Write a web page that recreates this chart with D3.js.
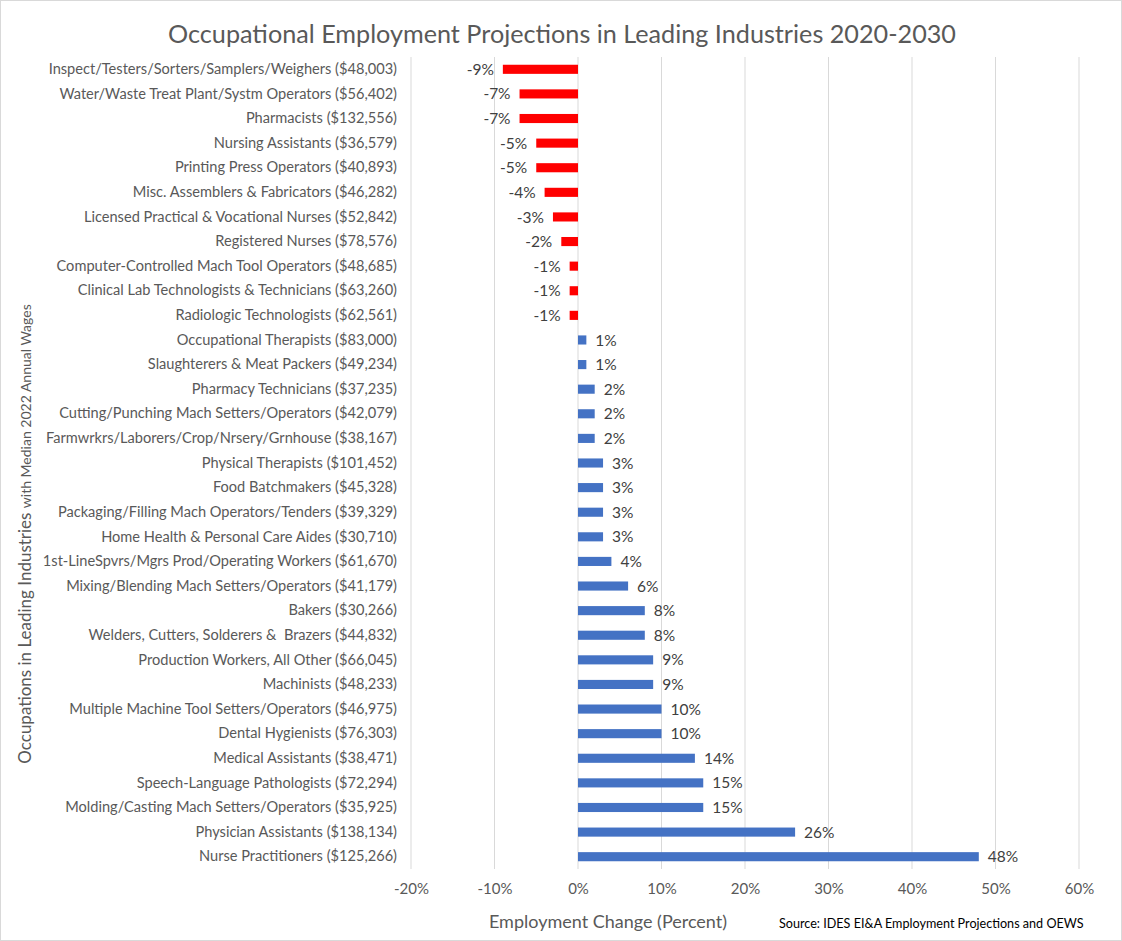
<!DOCTYPE html>
<html>
<head>
<meta charset="utf-8">
<script src="https://cdn.jsdelivr.net/npm/d3@7"></script>
<style>
  html, body { margin: 0; padding: 0; background: #fff; }
  svg text { font-family: Lato, "Open Sans", sans-serif; white-space: pre; }
</style>
</head>
<body>
<svg id="chart" width="1122" height="941"></svg>
<script>
// Occupations (with median 2022 annual wage), top to bottom
const occupations = [
  "Inspect/Testers/Sorters/Samplers/Weighers ($48,003)",
  "Water/Waste Treat Plant/Systm Operators ($56,402)",
  "Pharmacists ($132,556)",
  "Nursing Assistants ($36,579)",
  "Printing Press Operators ($40,893)",
  "Misc. Assemblers & Fabricators ($46,282)",
  "Licensed Practical & Vocational Nurses ($52,842)",
  "Registered Nurses ($78,576)",
  "Computer-Controlled Mach Tool Operators ($48,685)",
  "Clinical Lab Technologists & Technicians ($63,260)",
  "Radiologic Technologists ($62,561)",
  "Occupational Therapists ($83,000)",
  "Slaughterers & Meat Packers ($49,234)",
  "Pharmacy Technicians ($37,235)",
  "Cutting/Punching Mach Setters/Operators ($42,079)",
  "Farmwrkrs/Laborers/Crop/Nrsery/Grnhouse ($38,167)",
  "Physical Therapists ($101,452)",
  "Food Batchmakers ($45,328)",
  "Packaging/Filling Mach Operators/Tenders ($39,329)",
  "Home Health & Personal Care Aides ($30,710)",
  "1st-LineSpvrs/Mgrs Prod/Operating Workers ($61,670)",
  "Mixing/Blending Mach Setters/Operators ($41,179)",
  "Bakers ($30,266)",
  "Welders, Cutters, Solderers &  Brazers ($44,832)",
  "Production Workers, All Other ($66,045)",
  "Machinists ($48,233)",
  "Multiple Machine Tool Setters/Operators ($46,975)",
  "Dental Hygienists ($76,303)",
  "Medical Assistants ($38,471)",
  "Speech-Language Pathologists ($72,294)",
  "Molding/Casting Mach Setters/Operators ($35,925)",
  "Physician Assistants ($138,134)",
  "Nurse Practitioners ($125,266)"
];

// Projected employment change 2020-2030, percent
const changePct = [
  -9, -7, -7, -5, -5, -4, -3, -2, -1, -1, -1,
  1, 1, 2, 2, 2, 3, 3, 3, 3, 4, 6, 8, 8, 9, 9, 10, 10, 14, 15, 15, 26, 48
];

const xTicks = [-20, -10, 0, 10, 20, 30, 40, 50, 60];

const titleText = "Occupational Employment Projections in Leading Industries 2020-2030";
const xTitleText = "Employment Change (Percent)";
const sourceText = "Source: IDES EI&A Employment Projections and OEWS";

const data = occupations.map((name, i) => ({ name, value: changePct[i] }));

const svg = d3.select("#chart");
const W = 1122, H = 941;
const margin = { top: 57, right: 43, bottom: 72, left: 411 };

// outer border
svg.append("rect")
  .attr("x", 0.5).attr("y", 0.5)
  .attr("width", W - 1).attr("height", H - 1)
  .attr("fill", "#fff").attr("stroke", "#d9d9d9");

const x = d3.scaleLinear()
  .domain([-20, 60])
  .range([margin.left, W - margin.right]);

const y = d3.scaleBand()
  .domain(occupations)
  .range([margin.top, H - margin.bottom])
  .paddingInner(0.63)
  .paddingOuter(0.315);

// vertical gridlines
svg.append("g")
  .selectAll("line")
  .data(xTicks)
  .join("line")
  .attr("x1", d => x(d)).attr("x2", d => x(d))
  .attr("y1", margin.top).attr("y2", H - margin.bottom)
  .attr("stroke", "#d9d9d9").attr("stroke-width", 1);

// x axis tick labels
const xAxis = d3.axisBottom(x)
  .tickValues(xTicks)
  .tickSize(0)
  .tickPadding(14)
  .tickFormat(d => d + "%");
const gx = svg.append("g")
  .attr("transform", `translate(0,${H - margin.bottom})`)
  .call(xAxis);
gx.select(".domain").remove();
gx.selectAll("text")
  .attr("fill", "#595959")
  .style("font-size", "15px");

// y axis category labels
const yAxis = d3.axisLeft(y).tickSize(0).tickPadding(14);
const gy = svg.append("g")
  .attr("transform", `translate(${margin.left},0)`)
  .call(yAxis);
gy.select(".domain").remove();
gy.selectAll("text")
  .attr("fill", "#595959")
  .style("font-size", "14.6px");

// bars
svg.append("g")
  .selectAll("rect")
  .data(data)
  .join("rect")
  .attr("x", d => x(Math.min(0, d.value)))
  .attr("width", d => Math.abs(x(d.value) - x(0)))
  .attr("y", d => y(d.name))
  .attr("height", y.bandwidth())
  .attr("fill", d => d.value < 0 ? "#ff0000" : "#4472c4");

// value labels
svg.append("g")
  .selectAll("text")
  .data(data)
  .join("text")
  .attr("x", d => d.value < 0 ? x(d.value) - 9 : x(d.value) + 9)
  .attr("y", d => y(d.name) + y.bandwidth() / 2)
  .attr("dy", "0.36em")
  .attr("text-anchor", d => d.value < 0 ? "end" : "start")
  .attr("fill", "#404040")
  .style("font-size", "15.5px")
  .text(d => d.value + "%");

// chart title
svg.append("text")
  .attr("x", 562).attr("y", 43)
  .attr("text-anchor", "middle")
  .attr("fill", "#595959")
  .style("font-size", "25.2px")
  .text(titleText);

// y axis title (two sizes)
const yTitle = svg.append("text")
  .attr("transform", "translate(31,534) rotate(-90)")
  .attr("text-anchor", "middle")
  .attr("fill", "#595959");
yTitle.append("tspan").style("font-size", "17px").text("Occupations in Leading Industries ");
yTitle.append("tspan").style("font-size", "14px").text("with Median 2022 Annual Wages");

// x axis title
svg.append("text")
  .attr("x", 608).attr("y", 928)
  .attr("text-anchor", "middle")
  .attr("fill", "#595959")
  .style("font-size", "18px")
  .text(xTitleText);

// source note
svg.append("text")
  .attr("x", 779).attr("y", 928)
  .attr("fill", "#000")
  .style("font-size", "12.6px")
  .text(sourceText);
</script>
</body>
</html>
